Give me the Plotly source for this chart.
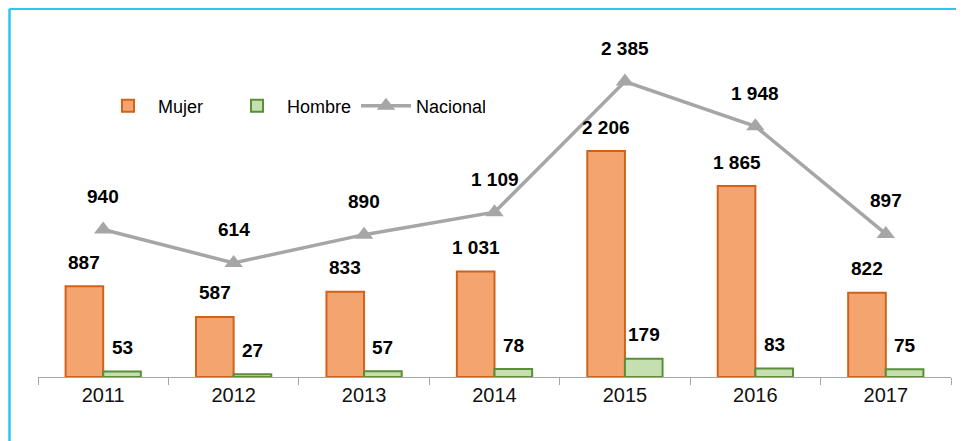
import plotly.graph_objects as go

years = ["2011", "2012", "2013", "2014", "2015", "2016", "2017"]
mujer = [887, 587, 833, 1031, 2206, 1865, 822]
hombre = [53, 27, 57, 78, 179, 83, 75]
nacional = [940, 614, 890, 1109, 2385, 1948, 897]

# page body adds an 8px offset; size the figure to fit the 964x441 window
OFF = 8
W, H = 964 - OFF, 441 - OFF
ML, MR, MT, MB = 38 - OFF, 13, 20 - OFF, 64
plot_h = H - MT - MB
px_per_unit = 0.1024
y1_max = plot_h / px_per_unit
y2_min = -500
y2_max = y2_min + plot_h / px_per_unit

FAM = "Liberation Sans, Arial, sans-serif"
LABEL_FONT = dict(family=FAM, size=19, color="#000000", weight="bold")


def fmt(v):
    return f"{v:,}".replace(",", " ")


fig = go.Figure()
fig.add_trace(go.Bar(
    x=years, y=mujer, name="Mujer",
    marker=dict(color="#F4A46E", line=dict(color="#D0621C", width=2)),
))
fig.add_trace(go.Bar(
    x=years, y=hombre, name="Hombre",
    marker=dict(color="#C5DFB1", line=dict(color="#5A8E38", width=2)),
))
fig.add_trace(go.Scatter(
    x=years, y=nacional, name="Nacional", yaxis="y2",
    mode="lines+markers",
    line=dict(color="#A6A6A6", width=3.5),
    marker=dict(symbol="triangle-up", size=16, color="#A6A6A6"),
))

annotations = []
bar_off = 18.8
for i in range(len(years)):
    annotations.append(dict(x=i, y=mujer[i], xref="x", yref="y", text=fmt(mujer[i]),
                            showarrow=False, xshift=-bar_off, yshift=24, font=LABEL_FONT))
    annotations.append(dict(x=i, y=hombre[i], xref="x", yref="y", text=fmt(hombre[i]),
                            showarrow=False, xshift=bar_off, yshift=24, font=LABEL_FONT))
    annotations.append(dict(x=i, y=nacional[i], xref="x", yref="y2", text=fmt(nacional[i]),
                            showarrow=False, yshift=33, font=LABEL_FONT))

pw = W - ML - MR
bx = (1.5 - ML) / pw
by = (H - MB - 0.8) / plot_h
shapes = [
    dict(type="line", xref="paper", yref="paper", x0=bx, x1=bx, y0=by, y1=-0.3,
         line=dict(color="#2EC4F5", width=2.5)),
    dict(type="line", xref="paper", yref="paper", x0=bx, x1=1.2, y0=by, y1=by,
         line=dict(color="#2EC4F5", width=2.5)),
]

fig.update_layout(
    width=W, height=H,
    margin=dict(l=ML, r=MR, t=MT, b=MB),
    paper_bgcolor="white", plot_bgcolor="white",
    barmode="group", bargap=0.423, bargroupgap=0,
    showlegend=True,
    legend=dict(orientation="h", x=(98 - OFF - ML) / pw, y=(H - MB - (106 - OFF)) / plot_h,
                xanchor="left", yanchor="middle",
                font=dict(family=FAM, size=18, color="#000000"),
                bgcolor="rgba(0,0,0,0)", itemwidth=50, traceorder="normal",
                entrywidth=64, entrywidthmode="pixels"),
    xaxis=dict(type="category", range=[-0.5, len(years) - 0.5], showgrid=False,
               showline=True, linecolor="#A6A6A6", linewidth=1,
               ticks="outside", tickson="boundaries", ticklen=7, tickcolor="#A6A6A6",
               tickfont=dict(family=FAM, size=20, color="#111111")),
    yaxis=dict(range=[0, y1_max], visible=False, showgrid=False, zeroline=False),
    yaxis2=dict(range=[y2_min, y2_max], overlaying="y", visible=False, showgrid=False, zeroline=False),
    annotations=annotations,
    shapes=shapes,
)

fig.write_html("out.html")
